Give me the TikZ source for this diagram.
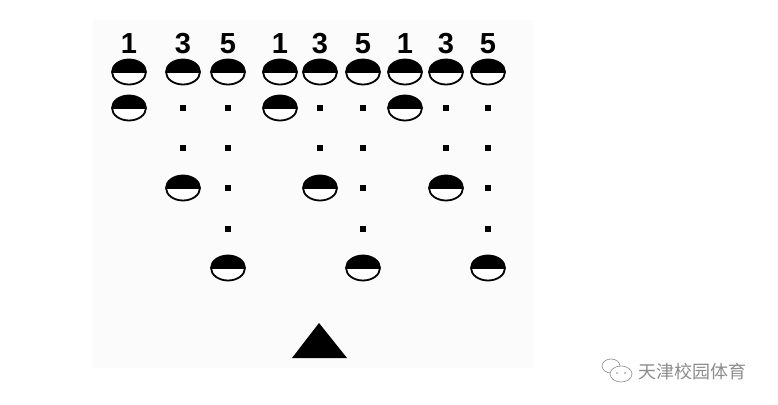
\documentclass[tikz,border=0pt]{standalone}
\usepackage{fontspec}
\setmainfont{Liberation Sans}
\newfontfamily\cjk{Noto Sans CJK SC}
\usetikzlibrary{shapes.geometric}
\tikzset{
  ball/.style = {ellipse, draw=black, line width=1.8pt, fill=white, minimum width=34pt,
  minimum height=25pt, inner sep=0pt,
  path picture={\fill[black] ([yshift=-1pt]path picture bounding box.west) rectangle (path picture bounding box.north east);}},
  spot/.style = {rectangle, fill=black, minimum size=5.5pt, inner sep=0pt},
  num/.style = {font=\bfseries\fontsize{29}{29}\selectfont, inner sep=0pt, anchor=base}
}
\definecolor{my_paper}{RGB}{251, 251, 251}
\definecolor{my_gray}{RGB}{140, 140, 140}

\begin{document}
\begin{tikzpicture}[x=1pt, y=-1pt,
        wmark/.style={text=my_gray, font=\cjk\fontsize{18}{18}\selectfont, inner sep=0pt, anchor=west},
        bubble/.style={draw=my_gray, line width=0.6pt, fill=white}]
    \useasboundingbox (0,0) rectangle (778,404);
    \fill[my_paper] (93,20) rectangle (533,368);
    % header numbers and first row
    \foreach \x/\n [count=\i] in {129/1,183/3,228/5,280/1,320/3,363/5,405/1,446/3,488/5} {
        \node [num] (n\i) at (\x,54) {\n};
        \node [ball] (b\i) at (\x,72) {};
    }
    % first of each group
    \foreach \x in {129,280,405}
        \node [ball] (one-\x) at (\x,108) {};
    % third of each group
    \foreach \x in {183,320,446} {
        \node [spot] (three-\x-a) at (\x,108) {};
        \node [spot] (three-\x-b) at (\x,148) {};
        \node [ball] (three-\x) at (\x,188) {};
    }
    % fifth of each group
    \foreach \x in {228,363,488} {
        \node [spot] (five-\x-a) at (\x,108) {};
        \node [spot] (five-\x-b) at (\x,148) {};
        \node [spot] (five-\x-c) at (\x,188) {};
        \node [spot] (five-\x-d) at (\x,229) {};
        \node [ball] (five-\x) at (\x,268) {};
    }
    % marker
    \coordinate (apex) at (319,323);
    \coordinate (baseR) at (347,358);
    \coordinate (baseL) at (292,358);
    \fill[black] (apex) -- (baseR) -- (baseL) -- cycle;
    % watermark
    \draw[bubble] (611,366) ellipse (9 and 7);
    \draw[bubble] (621,374) ellipse (11 and 8);
    \fill[my_gray] (617,373) circle (0.9) (625,373) circle (0.9);
    \node [wmark] (wm) at (638,372) {天津校园体育};
\end{tikzpicture}
\end{document}
